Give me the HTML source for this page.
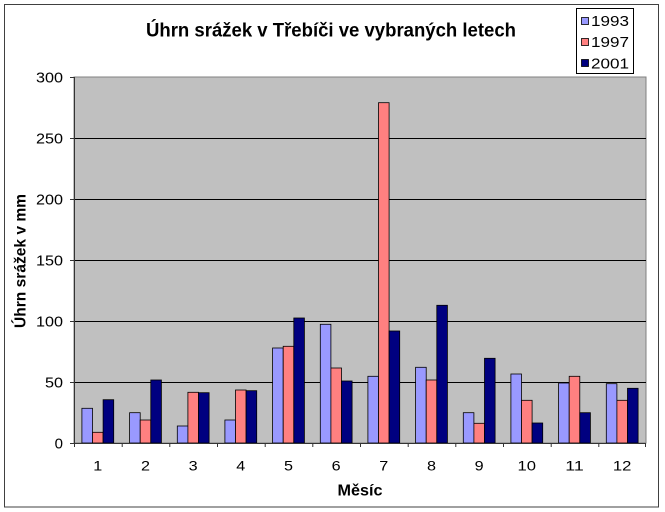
<!DOCTYPE html>
<html>
<head>
<meta charset="utf-8">
<style>
html,body{margin:0;padding:0;background:#fff;}
svg{display:block;}
text{font-family:"Liberation Sans",Arial,sans-serif;fill:#000;}
</style>
</head>
<body>
<svg width="665" height="512" viewBox="0 0 665 512" xmlns="http://www.w3.org/2000/svg">
<rect x="0" y="0" width="665" height="512" fill="#fff"/>
<rect x="4.5" y="4.5" width="654" height="502.5" fill="#fff" stroke="#404040" stroke-width="1"/>
<text x="331" y="36.5" font-size="19" font-weight="bold" text-anchor="middle" textLength="370" lengthAdjust="spacingAndGlyphs">Úhrn srážek v Třebíči ve vybraných letech</text>
<rect x="74" y="77" width="572" height="366" fill="#C0C0C0" stroke="#808080" stroke-width="1"/>
<g stroke="#000" stroke-width="1">
<line x1="74" y1="382.5" x2="646" y2="382.5"/>
<line x1="74" y1="321.5" x2="646" y2="321.5"/>
<line x1="74" y1="260.5" x2="646" y2="260.5"/>
<line x1="74" y1="199.5" x2="646" y2="199.5"/>
<line x1="74" y1="138.5" x2="646" y2="138.5"/>
</g>
<g stroke="#000" stroke-width="0.8">
<rect x="81.9" y="408.3" width="10.6" height="34.7" fill="#9999FF"/>
<rect x="92.5" y="432.3" width="10.6" height="10.7" fill="#FF8080"/>
<rect x="103.1" y="399.7" width="10.6" height="43.3" fill="#000080"/>
<rect x="129.6" y="412.7" width="10.6" height="30.3" fill="#9999FF"/>
<rect x="140.2" y="420" width="10.6" height="23" fill="#FF8080"/>
<rect x="150.8" y="380" width="10.6" height="63" fill="#000080"/>
<rect x="177.3" y="426" width="10.6" height="17" fill="#9999FF"/>
<rect x="187.9" y="392.3" width="10.6" height="50.7" fill="#FF8080"/>
<rect x="198.5" y="392.7" width="10.6" height="50.3" fill="#000080"/>
<rect x="224.9" y="420" width="10.6" height="23" fill="#9999FF"/>
<rect x="235.5" y="390" width="10.6" height="53" fill="#FF8080"/>
<rect x="246.1" y="390.7" width="10.6" height="52.3" fill="#000080"/>
<rect x="272.6" y="348" width="10.6" height="95" fill="#9999FF"/>
<rect x="283.2" y="346.3" width="10.6" height="96.7" fill="#FF8080"/>
<rect x="293.8" y="318" width="10.6" height="125" fill="#000080"/>
<rect x="320.3" y="324.3" width="10.6" height="118.7" fill="#9999FF"/>
<rect x="330.9" y="368" width="10.6" height="75" fill="#FF8080"/>
<rect x="341.5" y="381" width="10.6" height="62" fill="#000080"/>
<rect x="367.9" y="376.3" width="10.6" height="66.7" fill="#9999FF"/>
<rect x="378.5" y="102.7" width="10.6" height="340.3" fill="#FF8080"/>
<rect x="389.1" y="331" width="10.6" height="112" fill="#000080"/>
<rect x="415.6" y="367.3" width="10.6" height="75.7" fill="#9999FF"/>
<rect x="426.2" y="380" width="10.6" height="63" fill="#FF8080"/>
<rect x="436.8" y="305.3" width="10.6" height="137.7" fill="#000080"/>
<rect x="463.3" y="412.7" width="10.6" height="30.3" fill="#9999FF"/>
<rect x="473.9" y="423.3" width="10.6" height="19.7" fill="#FF8080"/>
<rect x="484.5" y="358.3" width="10.6" height="84.7" fill="#000080"/>
<rect x="510.9" y="374" width="10.6" height="69" fill="#9999FF"/>
<rect x="521.5" y="400.3" width="10.6" height="42.7" fill="#FF8080"/>
<rect x="532.1" y="423" width="10.6" height="20" fill="#000080"/>
<rect x="558.6" y="383" width="10.6" height="60" fill="#9999FF"/>
<rect x="569.2" y="376.3" width="10.6" height="66.7" fill="#FF8080"/>
<rect x="579.8" y="412.7" width="10.6" height="30.3" fill="#000080"/>
<rect x="606.3" y="383.7" width="10.6" height="59.3" fill="#9999FF"/>
<rect x="616.9" y="400.3" width="10.6" height="42.7" fill="#FF8080"/>
<rect x="627.5" y="388.3" width="10.6" height="54.7" fill="#000080"/>
</g>
<g stroke="#333" stroke-width="1">
<line x1="74.5" y1="77" x2="74.5" y2="443"/>
<line x1="74" y1="443.5" x2="646" y2="443.5"/>
<line x1="70" y1="77.5" x2="74" y2="77.5"/>
<line x1="70" y1="138.5" x2="74" y2="138.5"/>
<line x1="70" y1="199.5" x2="74" y2="199.5"/>
<line x1="70" y1="260.5" x2="74" y2="260.5"/>
<line x1="70" y1="321.5" x2="74" y2="321.5"/>
<line x1="70" y1="382.5" x2="74" y2="382.5"/>
<line x1="70" y1="443.5" x2="74" y2="443.5"/>
<line x1="74.5" y1="443" x2="74.5" y2="447"/>
<line x1="122.2" y1="443" x2="122.2" y2="447"/>
<line x1="169.8" y1="443" x2="169.8" y2="447"/>
<line x1="217.5" y1="443" x2="217.5" y2="447"/>
<line x1="265.2" y1="443" x2="265.2" y2="447"/>
<line x1="312.8" y1="443" x2="312.8" y2="447"/>
<line x1="360.5" y1="443" x2="360.5" y2="447"/>
<line x1="408.2" y1="443" x2="408.2" y2="447"/>
<line x1="455.8" y1="443" x2="455.8" y2="447"/>
<line x1="503.5" y1="443" x2="503.5" y2="447"/>
<line x1="551.2" y1="443" x2="551.2" y2="447"/>
<line x1="598.8" y1="443" x2="598.8" y2="447"/>
<line x1="645.5" y1="443" x2="645.5" y2="447"/>
</g>
<g font-size="15" text-anchor="end">
<text x="63" y="82.5" textLength="27" lengthAdjust="spacingAndGlyphs">300</text>
<text x="63" y="143.5" textLength="27" lengthAdjust="spacingAndGlyphs">250</text>
<text x="63" y="204.5" textLength="27" lengthAdjust="spacingAndGlyphs">200</text>
<text x="63" y="265.5" textLength="27" lengthAdjust="spacingAndGlyphs">150</text>
<text x="63" y="326.5" textLength="27" lengthAdjust="spacingAndGlyphs">100</text>
<text x="63" y="387.5" textLength="18" lengthAdjust="spacingAndGlyphs">50</text>
<text x="63" y="448.5">0</text>
</g>
<g font-size="14" text-anchor="middle">
<text x="97.8" y="470.7" textLength="9" lengthAdjust="spacingAndGlyphs">1</text>
<text x="145.5" y="470.7" textLength="9" lengthAdjust="spacingAndGlyphs">2</text>
<text x="193.2" y="470.7" textLength="9" lengthAdjust="spacingAndGlyphs">3</text>
<text x="240.8" y="470.7" textLength="9" lengthAdjust="spacingAndGlyphs">4</text>
<text x="288.5" y="470.7" textLength="9" lengthAdjust="spacingAndGlyphs">5</text>
<text x="336.2" y="470.7" textLength="9" lengthAdjust="spacingAndGlyphs">6</text>
<text x="383.8" y="470.7" textLength="9" lengthAdjust="spacingAndGlyphs">7</text>
<text x="431.5" y="470.7" textLength="9" lengthAdjust="spacingAndGlyphs">8</text>
<text x="479.2" y="470.7" textLength="9" lengthAdjust="spacingAndGlyphs">9</text>
<text x="526.8" y="470.7" textLength="18.5" lengthAdjust="spacingAndGlyphs">10</text>
<text x="574.5" y="470.7" textLength="18.5" lengthAdjust="spacingAndGlyphs">11</text>
<text x="622.2" y="470.7" textLength="18.5" lengthAdjust="spacingAndGlyphs">12</text>
</g>
<text x="360" y="495.7" font-size="15.5" font-weight="bold" text-anchor="middle" textLength="45" lengthAdjust="spacingAndGlyphs">Měsíc</text>
<text transform="translate(25.5,261) rotate(-90)" x="0" y="0" font-size="15.5" font-weight="bold" text-anchor="middle" textLength="134" lengthAdjust="spacingAndGlyphs">Úhrn srážek v mm</text>
<rect x="576.5" y="8.5" width="57" height="65" fill="#fff" stroke="#000" stroke-width="1"/>
<rect x="581.5" y="17.5" width="7" height="7" fill="#9999FF" stroke="#000" stroke-width="0.8"/>
<rect x="581.5" y="38.5" width="7" height="7" fill="#FF8080" stroke="#000" stroke-width="0.8"/>
<rect x="581.5" y="59.5" width="7" height="7" fill="#000080" stroke="#000" stroke-width="0.8"/>
<g font-size="14.5">
<text x="591" y="26.2" textLength="38" lengthAdjust="spacingAndGlyphs">1993</text>
<text x="591" y="47.2" textLength="38" lengthAdjust="spacingAndGlyphs">1997</text>
<text x="591" y="68.3" textLength="38" lengthAdjust="spacingAndGlyphs">2001</text>
</g>
</svg>
</body>
</html>
